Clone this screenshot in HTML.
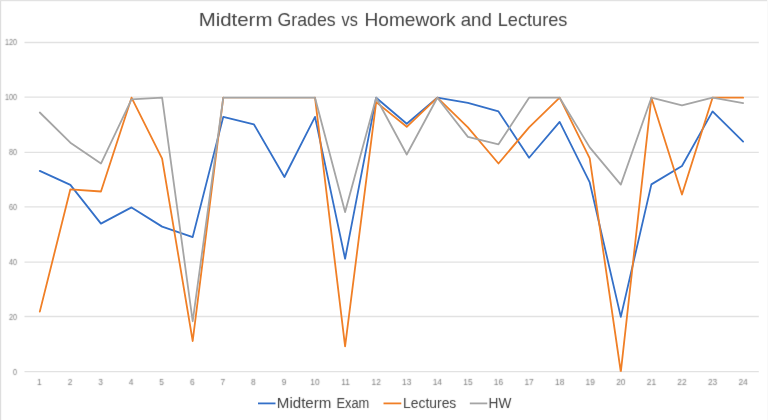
<!DOCTYPE html>
<html><head><meta charset="utf-8"><style>
html,body{margin:0;padding:0;background:#fff;}
svg{display:block;}
.g{stroke:#e2e2e2;stroke-width:1.3;}
.yl{font-family:"Liberation Sans",sans-serif;font-size:8.4px;fill:#7c7c7c;text-anchor:end;}
.xl{font-family:"Liberation Sans",sans-serif;font-size:8.4px;fill:#7c7c7c;text-anchor:middle;}
.s{fill:none;stroke-width:1.8;stroke-linejoin:round;stroke-linecap:round;}
.t{font-family:"Liberation Sans",sans-serif;fill:#444444;}
</style></head><body>
<svg width="768" height="420" viewBox="0 0 768 420">
<defs><filter id="tb" x="0" y="0" width="768" height="420" filterUnits="userSpaceOnUse"><feConvolveMatrix order="3" kernelMatrix="0.0052 0.0619 0.0052 0.0619 0.7314 0.0619 0.0052 0.0619 0.0052" edgeMode="none" preserveAlpha="false"/></filter><filter id="sb" x="0" y="0" width="768" height="420" filterUnits="userSpaceOnUse"><feConvolveMatrix order="3" kernelMatrix="0.0192 0.1001 0.0192 0.1001 0.5228 0.1001 0.0192 0.1001 0.0192" edgeMode="none" preserveAlpha="false"/></filter><clipPath id="pc"><rect x="20" y="30" width="745" height="341.7"/></clipPath></defs>
<rect x="0" y="0" width="768" height="420" fill="#fff"/>
<rect x="0" y="0" width="1.2" height="420" fill="#dedede"/>
<rect x="0" y="0" width="768" height="1.2" fill="#e2e2e2"/>
<rect x="767" y="0" width="1" height="420" fill="#f9f9f9"/>
<g filter="url(#tb)"><text x="198.7" y="26" class="t" font-size="18.6" textLength="73.76" lengthAdjust="spacingAndGlyphs">Midterm</text><text x="277.6" y="26" class="t" font-size="18.6" textLength="57.98" lengthAdjust="spacingAndGlyphs">Grades</text><text x="341.6" y="26" class="t" font-size="18.6" textLength="16.29" lengthAdjust="spacingAndGlyphs">vs</text><text x="364.5" y="26" class="t" font-size="18.6" textLength="91.16" lengthAdjust="spacingAndGlyphs">Homework</text><text x="460.7" y="26" class="t" font-size="18.6" textLength="31.13" lengthAdjust="spacingAndGlyphs">and</text><text x="497.75" y="26" class="t" font-size="18.6" textLength="69.68" lengthAdjust="spacingAndGlyphs">Lectures</text></g>
<line x1="24.5" y1="371.60" x2="758.8" y2="371.60" class="g"/>
<line x1="24.5" y1="316.50" x2="758.8" y2="316.50" class="g"/>
<line x1="24.5" y1="262.10" x2="758.8" y2="262.10" class="g"/>
<line x1="24.5" y1="206.90" x2="758.8" y2="206.90" class="g"/>
<line x1="24.5" y1="152.40" x2="758.8" y2="152.40" class="g"/>
<line x1="24.5" y1="97.20" x2="758.8" y2="97.20" class="g"/>
<line x1="24.5" y1="42.50" x2="758.8" y2="42.50" class="g"/>
<g filter="url(#sb)"><text x="17.1" y="374.60" class="yl" textLength="4.00" lengthAdjust="spacingAndGlyphs">0</text>
<text x="17.1" y="319.74" class="yl" textLength="8.00" lengthAdjust="spacingAndGlyphs">20</text>
<text x="17.1" y="264.88" class="yl" textLength="8.00" lengthAdjust="spacingAndGlyphs">40</text>
<text x="17.1" y="210.02" class="yl" textLength="8.00" lengthAdjust="spacingAndGlyphs">60</text>
<text x="17.1" y="155.16" class="yl" textLength="8.00" lengthAdjust="spacingAndGlyphs">80</text>
<text x="17.1" y="100.30" class="yl" textLength="12.00" lengthAdjust="spacingAndGlyphs">100</text>
<text x="17.1" y="45.44" class="yl" textLength="12.00" lengthAdjust="spacingAndGlyphs">120</text>
<text x="39.39" y="384.6" class="xl">1</text>
<text x="69.97" y="384.6" class="xl">2</text>
<text x="100.55" y="384.6" class="xl">3</text>
<text x="131.13" y="384.6" class="xl">4</text>
<text x="161.71" y="384.6" class="xl">5</text>
<text x="192.29" y="384.6" class="xl">6</text>
<text x="222.87" y="384.6" class="xl">7</text>
<text x="253.45" y="384.6" class="xl">8</text>
<text x="284.03" y="384.6" class="xl">9</text>
<text x="315.01" y="384.6" class="xl">10</text>
<text x="345.59" y="384.6" class="xl">11</text>
<text x="376.17" y="384.6" class="xl">12</text>
<text x="406.75" y="384.6" class="xl">13</text>
<text x="437.33" y="384.6" class="xl">14</text>
<text x="467.91" y="384.6" class="xl">15</text>
<text x="498.49" y="384.6" class="xl">16</text>
<text x="529.07" y="384.6" class="xl">17</text>
<text x="559.65" y="384.6" class="xl">18</text>
<text x="590.23" y="384.6" class="xl">19</text>
<text x="620.81" y="384.6" class="xl">20</text>
<text x="651.39" y="384.6" class="xl">21</text>
<text x="681.97" y="384.6" class="xl">22</text>
<text x="712.55" y="384.6" class="xl">23</text>
<text x="743.13" y="384.6" class="xl">24</text>
</g>
<g clip-path="url(#pc)"><polyline class="s" stroke="#3470C8" points="39.79,170.94 70.37,184.93 100.95,223.60 131.53,207.42 162.11,226.62 192.69,237.04 223.27,116.90 253.85,124.31 284.43,176.97 315.01,116.90 345.09,258.71 376.17,97.70 406.75,123.76 437.33,97.70 467.91,102.91 498.49,111.42 529.07,157.77 559.65,121.84 589.73,182.46 620.81,316.87 651.39,184.38 681.97,166.00 712.55,111.42 743.13,141.59"/>
<polyline class="s" stroke="#F07F26" points="39.79,311.65 70.37,189.32 100.95,191.51 131.53,97.70 162.11,158.59 192.69,341.00 223.27,97.70"/><polyline class="s" stroke="#F07F26" style="stroke-width:1.3" points="223.27,97.70 253.85,97.70 284.43,97.70 315.01,97.70"/><polyline class="s" stroke="#F07F26" points="315.01,97.70 345.09,346.35 376.17,102.09 406.75,126.78 437.33,97.70 467.91,127.32 498.49,163.53 529.07,127.32 559.65,97.70 589.73,158.32 620.81,372.00 651.39,97.70 681.97,194.53 712.55,97.70 743.13,97.70"/>
<polyline class="s" stroke="#A5A5A5" points="39.79,112.51 70.37,142.69 100.95,163.53 131.53,99.35 162.11,97.70 192.69,321.25 223.27,97.70 253.85,97.70 284.43,97.70 315.01,97.70 345.09,212.08 376.17,97.70 406.75,154.48 437.33,97.70 467.91,136.92 498.49,144.33 529.07,97.70 559.65,97.70 589.73,147.35 620.81,184.65 651.39,97.70 681.97,105.38 712.55,97.70 743.13,103.19"/></g>
<line x1="258" y1="403.4" x2="275.5" y2="403.4" stroke="#3470C8" stroke-width="1.8"/>
<line x1="383.5" y1="403.4" x2="401.3" y2="403.4" stroke="#F07F26" stroke-width="1.8"/>
<line x1="469.8" y1="403.4" x2="487.3" y2="403.4" stroke="#A5A5A5" stroke-width="1.8"/>
<g filter="url(#tb)"><text x="276.8" y="408.4" class="t" font-size="13.8" textLength="54.6" lengthAdjust="spacingAndGlyphs">Midterm</text><text x="336.4" y="408.4" class="t" font-size="13.8" textLength="32.9" lengthAdjust="spacingAndGlyphs">Exam</text><text x="403.1" y="408.4" class="t" font-size="13.8" textLength="53.2" lengthAdjust="spacingAndGlyphs">Lectures</text><text x="488.6" y="408.4" class="t" font-size="13.8" textLength="22.8" lengthAdjust="spacingAndGlyphs">HW</text></g>
</svg>
</body></html>
